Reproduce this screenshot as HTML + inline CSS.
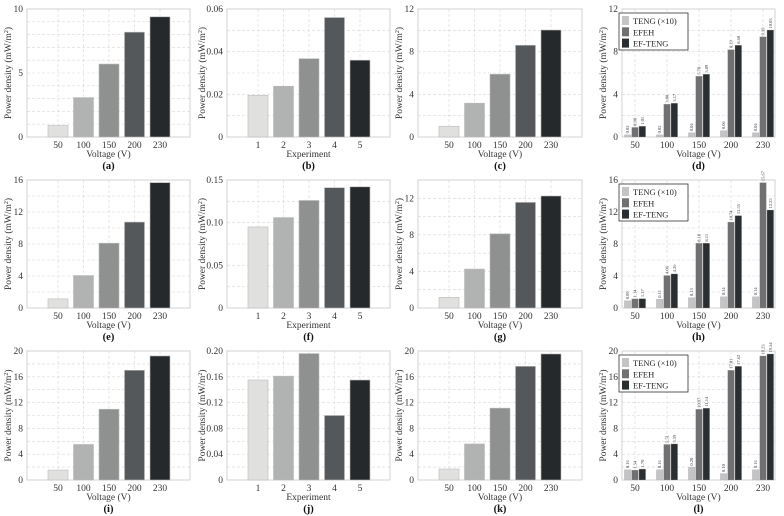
<!DOCTYPE html>
<html><head><meta charset="utf-8">
<style>
html,body{margin:0;padding:0;background:#fff;}
svg{display:block;font-family:"Liberation Serif",serif;}
</style></head>
<body>
<svg id="fig" width="784" height="516" viewBox="0 0 784 516"></svg>
<script>
// ---- data ----
const voltageCats = ["50","100","150","200","230"];
const experimentCats = ["1","2","3","4","5"];
const valuesA = [0.90, 3.08, 5.70, 8.19, 9.39];
const valuesB = [0.0195, 0.0238, 0.0367, 0.056, 0.036];
const valuesC = [1.01, 3.17, 5.89, 8.60, 10.03];
const valuesE = [1.14, 4.06, 8.10, 10.74, 15.67];
const valuesF = [0.095, 0.106, 0.126, 0.141, 0.142];
const valuesG = [1.17, 4.26, 8.11, 11.55, 12.25];
const valuesI = [1.54, 5.51, 10.97, 17.01, 19.23];
const valuesJ = [0.155, 0.161, 0.196, 0.100, 0.155];
const valuesK = [1.70, 5.59, 11.14, 17.62, 19.54];
const tengD = [0.02, 0.02, 0.04, 0.06, 0.04];
const efehD = [0.90, 3.08, 5.70, 8.19, 9.39];
const efTengD = [1.01, 3.17, 5.89, 8.60, 10.03];
const tengH = [0.09, 0.11, 0.13, 0.14, 0.14];
const efehH = [1.14, 4.06, 8.10, 10.74, 15.67];
const efTengH = [1.17, 4.26, 8.11, 11.55, 12.25];
const tengL = [0.16, 0.16, 0.20, 0.10, 0.16];
const efehL = [1.54, 5.51, 10.97, 17.01, 19.23];
const efTengL = [1.70, 5.59, 11.14, 17.62, 19.54];
const ticksA = ["0","5","10"];
const ticksB = ["0","0.02","0.04","0.06"];
const ticks12 = ["0","4","8","12"];
const ticks16 = ["0","4","8","12","16"];
const ticksF = ["0","0.05","0.10","0.15"];
const ticks20 = ["0","4","8","12","16","20"];
const ticksJ = ["0","0.04","0.08","0.12","0.16","0.20"];
const seriesNames = ["TENG (\u00d710)","EFEH","EF-TENG"];

const svg = document.getElementById('fig');
const NS = 'http://www.w3.org/2000/svg';
function mk(tag, attrs, parent){
  const e = document.createElementNS(NS, tag);
  for (const k in attrs) e.setAttribute(k, attrs[k]);
  (parent||svg).appendChild(e);
  return e;
}
const singleColors = ["#e0e1df","#b1b2b2","#8f9090","#55585a","#26292b"];
const groupColors = ["#c3c4c3","#6e7072","#2b2e30"];
const cols = [{l:27,w:163},{l:227,w:163},{l:418,w:164},{l:622,w:153}];
const rows = [{t:9,b:137},{t:180,b:308},{t:351,b:480}];

function frame(g, c, r, ymax, ticks, gridStep, xs, ncat, xlabel, letter){
  const x0=c.l, x1=c.l+c.w, y0=r.t, y1=r.b;
  const ys = v => y1 - v/ymax*(y1-y0);
  for (let v=gridStep; v<ymax-1e-9; v+=gridStep){
    const gl = mk('line',{x1:x0,x2:x1,y1:ys(v),y2:ys(v),stroke:'#d8d8d8','stroke-width':0.6,'stroke-dasharray':'3,2'},g);
    
    
  }
  for (let i=0;i<ncat;i++){
    const vl = mk('line',{x1:xs(i),x2:xs(i),y1:y0,y2:y1,stroke:'#d8d8d8','stroke-width':0.6,'stroke-dasharray':'3,2'},g);
    
    
  }
  const fr = mk('rect',{x:x0,y:y0,width:c.w,height:y1-y0,fill:'none',stroke:'#c8c8c8','stroke-width':0.8},g);
  
  
  const n = ticks.length-1;
  ticks.forEach((t)=>{
    const yy = ys(parseFloat(t));
    const tx = mk('text',{x:x0-4,y:yy+3,'text-anchor':'end','font-size':9.5,fill:'#333'},g);
    tx.textContent=t;
    
    
  });
  const yl = mk('text',{x:0,y:0,'text-anchor':'middle','font-size':9.5,fill:'#333',transform:`translate(${x0-(ticks[n].length>3?22:16)},${(y0+y1)/2}) rotate(-90)`},g);
  yl.innerHTML='Power density (mW/m<tspan font-size="6" dy="-3">2</tspan><tspan dy="3">)</tspan>';
  
  
  const xl = mk('text',{x:x0+c.w/2,y:y1+20,'text-anchor':'middle','font-size':9.5,fill:'#333'},g);
  xl.textContent=xlabel;
  
  
  const lt = mk('text',{x:x0+c.w/2,y:y1+32,'text-anchor':'middle','font-size':10.5,'font-weight':'bold',fill:'#111'},g);
  lt.textContent='('+letter+')';
  
  
  return ys;
}

function singlePanel(ci, ri, vals, cats, ymax, ticks, gridStep, xlabel, letter){
  const c=cols[ci], r=rows[ri];
  const g = mk('g',{});
  
  
  const xs = i => c.l + 31 + 25.5*i;
  const ys = frame(g,c,r,ymax,ticks,gridStep,xs,cats.length,xlabel,letter);
  vals.forEach((v,i)=>{
    const b = mk('rect',{x:xs(i)-10,y:ys(v),width:20,height:r.b-ys(v),fill:singleColors[i],stroke:'#bbbbbb','stroke-width':0.6},g);
    
    
  });
  cats.forEach((cat,i)=>{
    const t = mk('text',{x:xs(i),y:r.b+11,'text-anchor':'middle','font-size':9.5,fill:'#333'},g);
    t.textContent=cat;
    
    
  });
}

function groupPanel(ri, series, ymax, ticks, gridStep, letter){
  const c=cols[3], r=rows[ri];
  const g = mk('g',{});
  
  
  const xs = i => c.l + 13 + 32*i;
  const ys = frame(g,c,r,ymax,ticks,gridStep,xs,voltageCats.length,'Voltage (V)',letter);
  series.forEach((vals,s)=>{
    vals.forEach((v,i)=>{
      const h = s===0 ? v*10 : v;
      const cx = xs(i) + (s-1)*7.3;
      const b = mk('rect',{x:cx-3.3,y:ys(h),width:6.6,height:r.b-ys(h),fill:groupColors[s],stroke:'#aaa','stroke-width':0.3},g);
      
      
      const lab = mk('text',{x:0,y:0,'font-size':4.5,fill:'#444',transform:`translate(${cx+1.5},${ys(h)-1.5}) rotate(-90)`},g);
      lab.textContent=v.toFixed(2);
      
      
    });
  });
  voltageCats.forEach((cat,i)=>{
    const t = mk('text',{x:xs(i),y:r.b+11,'text-anchor':'middle','font-size':9.5,fill:'#333'},g);
    t.textContent=cat;
    
    
  });
  const lg = mk('g',{},g);
  
  
  const lx=c.l-3, ly=r.t+4;
  mk('rect',{x:lx,y:ly,width:69,height:37,fill:'#fff',stroke:'#333','stroke-width':0.8},lg);
  seriesNames.forEach((nm,s)=>{
    const sw = mk('rect',{x:lx+3,y:ly+3+s*11.3,width:7,height:9,fill:groupColors[s]},lg);
    
    
    const t = mk('text',{x:lx+14,y:ly+11+s*11.3,'font-size':8.5,fill:'#222'},lg);
    t.textContent=nm;
    
    
  });
}

singlePanel(0,0,valuesA,voltageCats,10,ticksA,1,'Voltage (V)','a');
singlePanel(1,0,valuesB,experimentCats,0.06,ticksB,0.01,'Experiment','b');
singlePanel(2,0,valuesC,voltageCats,12,ticks12,2,'Voltage (V)','c');
groupPanel(0,[tengD,efehD,efTengD],12,ticks12,2,'d');
singlePanel(0,1,valuesE,voltageCats,16,ticks16,2,'Voltage (V)','e');
singlePanel(1,1,valuesF,experimentCats,0.15,ticksF,0.025,'Experiment','f');
singlePanel(2,1,valuesG,voltageCats,14,ticks12,2,'Voltage (V)','g');
groupPanel(1,[tengH,efehH,efTengH],16,ticks16,2,'h');
singlePanel(0,2,valuesI,voltageCats,20,ticks20,2,'Voltage (V)','i');
singlePanel(1,2,valuesJ,experimentCats,0.20,ticksJ,0.02,'Experiment','j');
singlePanel(2,2,valuesK,voltageCats,20,ticks20,2,'Voltage (V)','k');
groupPanel(2,[tengL,efehL,efTengL],20,ticks20,2,'l');
</script>
</body></html>
